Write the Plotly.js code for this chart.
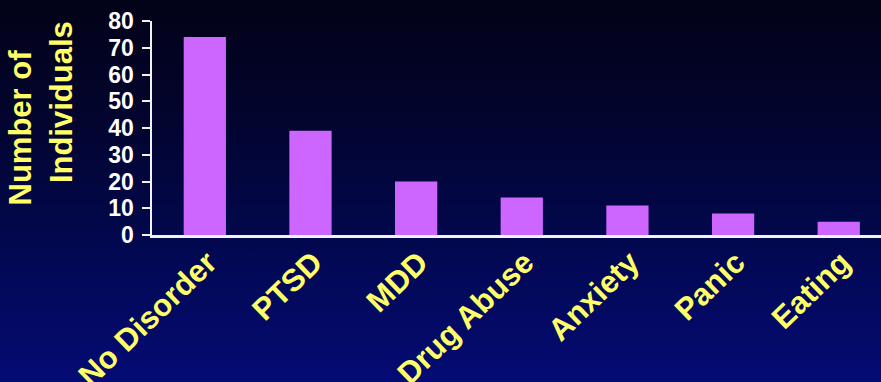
<!DOCTYPE html>
<html>
<head>
<meta charset="utf-8">
<script src="https://cdn.plot.ly/plotly-3.0.1.min.js"></script>
<style>
  html, body { margin:0; padding:0; width:881px; height:382px; overflow:hidden;
    background: linear-gradient(to bottom, #020217 0%, #020532 35%, #020850 65%, #040b74 100%); }
  #chart { width:881px; height:382px; }
</style>
</head>
<body>
<div id="chart"></div>
<script>
const categories = ["No Disorder", "PTSD", "MDD", "Drug Abuse", "Anxiety", "Panic", "Eating"];
const counts = [74, 39, 20, 14, 11, 8, 5];
const yTickValues = [0, 10, 20, 30, 40, 50, 60, 70, 80];

const FONT = "Liberation Sans, Arial, Helvetica, sans-serif";
const YELLOW = "#FFFF66";

const trace = {
  type: "bar",
  x: categories,
  y: counts,
  width: 0.4,
  marker: { color: "#CC66FF", line: { width: 0 } },
  hoverinfo: "x+y"
};

const layout = {
  width: 881, height: 382,
  margin: { l: 152, r: 0, t: 21, b: 147, pad: 0 },
  paper_bgcolor: "rgba(0,0,0,0)",
  plot_bgcolor: "rgba(0,0,0,0)",
  showlegend: false,
  bargap: 0.6,
  xaxis: {
    type: "category",
    range: [-0.5, 6.4],
    showline: true, linecolor: "#F2F2F2", linewidth: 3,
    ticks: "", showgrid: false, zeroline: false,
    tickangle: -44,
    ticklabelshift: 3,
    ticklabelstandoff: -6,
    tickfont: { family: FONT, size: 31, color: YELLOW, weight: "bold" },
    fixedrange: true
  },
  yaxis: {
    range: [0, 80],
    tickvals: yTickValues,
    ticktext: yTickValues.map(String),
    showline: true, linecolor: "#F2F2F2", linewidth: 2.5,
    ticks: "outside", ticklen: 8, tickwidth: 2, tickcolor: "#F2F2F2",
    ticklabelstandoff: 3,
    showgrid: false, zeroline: false,
    tickfont: { family: FONT, size: 23, color: "#FFFFFF", weight: "bold" },
    title: {
      text: "\u00a0\u00a0\u00a0\u00a0\u00a0\u00a0Number of<br>\u00a0\u00a0\u00a0\u00a0\u00a0\u00a0Individuals",
      font: { family: FONT, size: 31, color: YELLOW, weight: "bold" },
      standoff: 27
    },
    fixedrange: true
  }
};

Plotly.newPlot("chart", [trace], layout, { displayModeBar: false, staticPlot: true });
</script>
</body>
</html>
